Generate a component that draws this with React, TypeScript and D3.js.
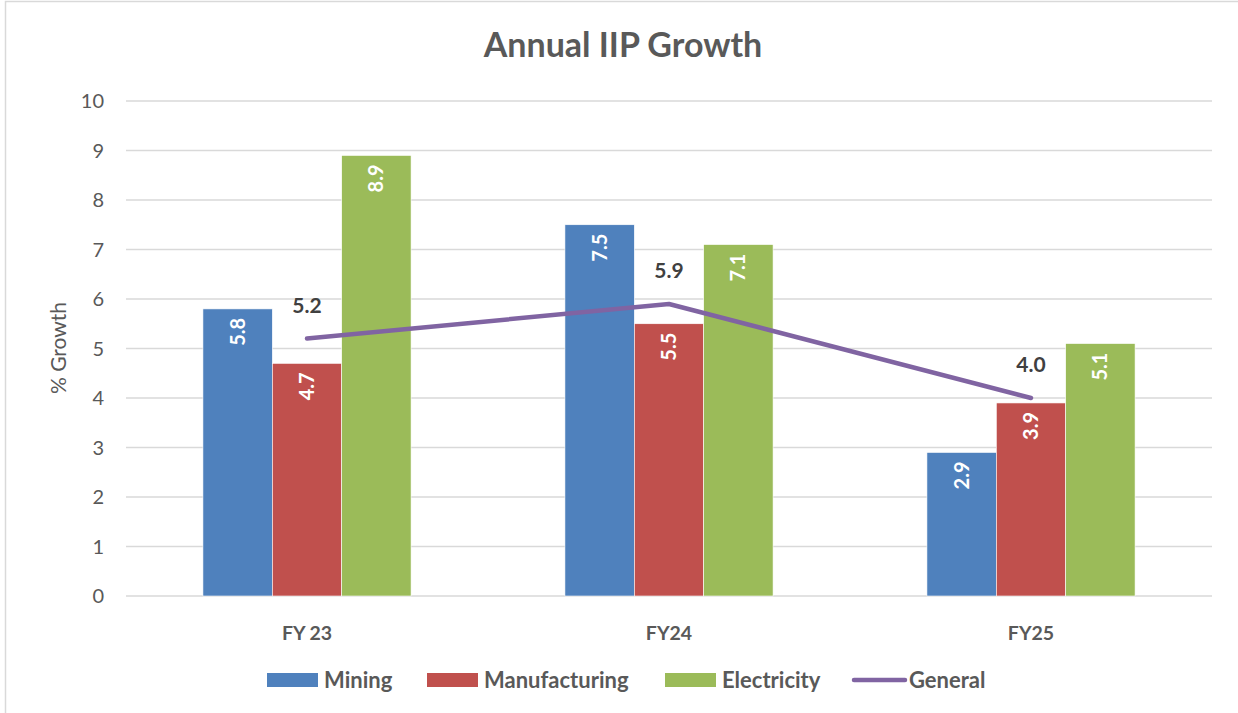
import React, { useEffect, useRef } from "react";
import * as d3 from "d3";

const categories = ["FY 23", "FY24", "FY25"];
const mining = [5.8, 7.5, 2.9];
const manufacturing = [4.7, 5.5, 3.9];
const electricity = [8.9, 7.1, 5.1];
const general = [5.2, 5.9, 4.0];
const yTicks = [0, 1, 2, 3, 4, 5, 6, 7, 8, 9, 10];

const seriesNames = ["Mining", "Manufacturing", "Electricity"];
const seriesColors = ["#4F81BD", "#C0504D", "#9BBB59"];
const lineColor = "#8064A2";

const width = 1238;
const height = 713;
const margin = { top: 101, right: 26, bottom: 117, left: 126 };
const font = "Lato, 'Open Sans', sans-serif";

export default function App() {
  const svgRef = useRef<SVGSVGElement>(null);

  useEffect(() => {
    const root = d3.select(svgRef.current);
    root.selectAll("*").remove();

    const plotWidth = width - margin.left - margin.right;
    const plotHeight = height - margin.top - margin.bottom;

    // chart frame
    root
      .append("rect")
      .attr("x", 5.5)
      .attr("y", 1.5)
      .attr("width", width + 10)
      .attr("height", height + 10)
      .attr("fill", "white")
      .attr("stroke", "#D9D9D9")
      .attr("stroke-width", 1.5);

    root
      .append("text")
      .attr("x", 623)
      .attr("y", 57)
      .attr("text-anchor", "middle")
      .attr("font-family", font)
      .attr("font-weight", "bold")
      .attr("font-size", 34)
      .attr("fill", "#595959")
      .text("Annual IIP Growth");

    const svg = root
      .append("g")
      .attr("transform", `translate(${margin.left},${margin.top})`);

    const yScale = d3.scaleLinear().domain([0, 10]).range([plotHeight, 0]);
    const xScale = d3
      .scaleBand()
      .domain(categories)
      .range([0, plotWidth])
      .paddingInner(0.425)
      .paddingOuter(0.2125);
    const inner = d3
      .scaleBand()
      .domain(seriesNames)
      .range([0, xScale.bandwidth()]);
    const center = (c: string) => (xScale(c) || 0) + xScale.bandwidth() / 2;

    // grid
    svg
      .append("g")
      .selectAll("line")
      .data(yTicks)
      .enter()
      .append("line")
      .attr("x1", 0)
      .attr("x2", plotWidth)
      .attr("y1", (d) => yScale(d))
      .attr("y2", (d) => yScale(d))
      .attr("stroke", "#D9D9D9")
      .attr("stroke-width", 1.5);

    // Y Axis labels
    svg
      .append("g")
      .selectAll("text")
      .data(yTicks)
      .enter()
      .append("text")
      .attr("x", -22)
      .attr("y", (d) => yScale(d))
      .attr("dy", "0.35em")
      .attr("text-anchor", "end")
      .attr("font-family", font)
      .attr("font-size", 20)
      .attr("fill", "#595959")
      .text((d) => d);

    root
      .append("text")
      .attr("transform", `translate(66,348) rotate(-90)`)
      .attr("text-anchor", "middle")
      .attr("font-family", font)
      .attr("font-size", 21)
      .attr("fill", "#595959")
      .text("% Growth");

    // X Axis labels
    svg
      .append("g")
      .selectAll("text")
      .data(categories)
      .enter()
      .append("text")
      .attr("x", (d) => center(d))
      .attr("y", plotHeight + 37)
      .attr("dy", "0.35em")
      .attr("text-anchor", "middle")
      .attr("font-family", font)
      .attr("font-weight", "bold")
      .attr("font-size", 19.5)
      .attr("fill", "#595959")
      .text((d) => d);

    // Bars
    const seriesValues = [mining, manufacturing, electricity];
    seriesValues.forEach((values, si) => {
      const g = svg.append("g");
      const rows = values.map((v, i) => ({ cat: categories[i], v }));
      g.selectAll("rect")
        .data(rows)
        .enter()
        .append("rect")
        .attr("x", (d) => (xScale(d.cat) || 0) + (inner(seriesNames[si]) || 0))
        .attr("y", (d) => yScale(d.v))
        .attr("width", inner.bandwidth())
        .attr("height", (d) => plotHeight - yScale(d.v))
        .attr("fill", seriesColors[si])
        .attr("stroke", "white")
        .attr("stroke-width", 0.6);

      g.selectAll("text")
        .data(rows)
        .enter()
        .append("text")
        .attr("transform", (d) => {
          const cx =
            (xScale(d.cat) || 0) +
            (inner(seriesNames[si]) || 0) +
            inner.bandwidth() / 2;
          return `translate(${cx},${yScale(d.v) + 9}) rotate(-90)`;
        })
        .attr("text-anchor", "end")
        .attr("dy", "0.35em")
        .attr("font-family", font)
        .attr("font-weight", "bold")
        .attr("font-size", 20)
        .attr("fill", "white")
        .text((d) => d.v.toFixed(1));
    });

    // General line
    const lineData = general.map((v, i) => ({ cat: categories[i], v }));
    const line = d3
      .line<{ cat: string; v: number }>()
      .x((d) => center(d.cat))
      .y((d) => yScale(d.v));

    svg
      .append("path")
      .datum(lineData)
      .attr("d", line)
      .attr("fill", "none")
      .attr("stroke", lineColor)
      .attr("stroke-width", 4.5)
      .attr("stroke-linecap", "round")
      .attr("stroke-linejoin", "round");

    svg
      .append("g")
      .selectAll("text")
      .data(lineData)
      .enter()
      .append("text")
      .attr("x", (d) => center(d.cat))
      .attr("y", (d) => yScale(d.v) - 33)
      .attr("dy", "0.35em")
      .attr("text-anchor", "middle")
      .attr("font-family", font)
      .attr("font-weight", "bold")
      .attr("font-size", 21)
      .attr("fill", "#404040")
      .text((d) => d.v.toFixed(1));

    // Legend
    const legendY = 680;
    const legend = root.append("g").attr("font-family", font);
    const legendItems = [
      { name: "Mining", x: 267, color: seriesColors[0], type: "bar" },
      { name: "Manufacturing", x: 427, color: seriesColors[1], type: "bar" },
      { name: "Electricity", x: 665, color: seriesColors[2], type: "bar" },
      { name: "General", x: 852, color: lineColor, type: "line" },
    ];
    legendItems.forEach((item) => {
      if (item.type === "bar") {
        legend
          .append("rect")
          .attr("x", item.x)
          .attr("y", legendY - 7)
          .attr("width", 51)
          .attr("height", 14)
          .attr("fill", item.color);
      } else {
        legend
          .append("line")
          .attr("x1", item.x + 2)
          .attr("x2", item.x + 53)
          .attr("y1", legendY)
          .attr("y2", legendY)
          .attr("stroke", item.color)
          .attr("stroke-width", 4.5)
          .attr("stroke-linecap", "round");
      }
      legend
        .append("text")
        .attr("x", item.x + 57)
        .attr("y", legendY)
        .attr("dy", "0.35em")
        .attr("font-size", 22)
        .attr("font-weight", "bold")
        .attr("fill", "#595959")
        .text(item.name);
    });
  }, []);

  return (
    <svg
      ref={svgRef}
      width={width}
      height={height}
      style={{ position: "absolute", left: 0, top: 0 }}
    />
  );
}
